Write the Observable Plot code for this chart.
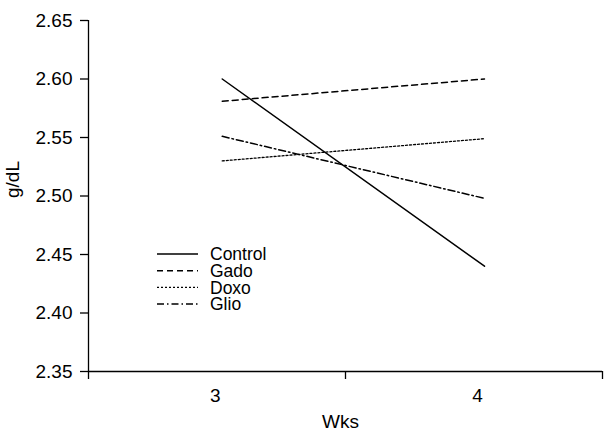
<!DOCTYPE html>
<html>
<head>
<meta charset="utf-8">
<script src="https://cdn.jsdelivr.net/npm/d3@7"></script>
<script src="https://cdn.jsdelivr.net/npm/@observablehq/plot@0.6"></script>
<style>
  html, body { margin: 0; padding: 0; background: #fff; }
  #wrap { position: relative; width: 614px; height: 439px; font-family: "Liberation Sans", Arial, sans-serif; }
  #legend { position: absolute; left: 150px; top: 242px; }
</style>
</head>
<body>
<div id="wrap"><div id="chart"></div><div id="legend"></div></div>
<script>
// Data
const weeks = [3, 4];
const series = ["Control", "Gado", "Doxo", "Glio"];
const control = [2.600, 2.440];
const gado = [2.581, 2.600];
const doxo = [2.530, 2.549];
const glio = [2.551, 2.498];
const yTicks = [2.35, 2.40, 2.45, 2.50, 2.55, 2.60, 2.65];
const xTickLabels = [3, 4];

const values = {Control: control, Gado: gado, Doxo: doxo, Glio: glio};
const dashes = {Control: null, Gado: "6,4", Doxo: "2,2", Glio: "7,3,1.5,3"};

const rows = [];
for (const s of series) weeks.forEach((w, i) => rows.push({series: s, wk: w, v: values[s][i]}));

const xDomain = [2.49, 4.45];
const xBounds = [xDomain[0], (xDomain[0] + xDomain[1]) / 2, xDomain[1]];
const yDomain = [2.35, 2.65];

const chart = Plot.plot({
  width: 614,
  height: 439,
  marginLeft: 88,
  marginRight: 12,
  marginTop: 20,
  marginBottom: 68,
  style: {fontFamily: "'Liberation Sans', Arial, sans-serif", fontSize: "19px", color: "#000", background: "#fff"},
  x: {domain: xDomain},
  y: {domain: yDomain},
  marks: [
    Plot.axisY({ticks: yTicks, tickFormat: d3.format(".2f"), tickSize: 8, tickPadding: 8, label: null, stroke: "#000", strokeWidth: 1.3}),
    Plot.axisX({ticks: xBounds, tickFormat: () => "", tickSize: 8, label: null, stroke: "#000", strokeWidth: 1.3}),
    Plot.axisX({ticks: xTickLabels, tickFormat: d => String(d), tickSize: 0, tickPadding: 17, dx: -7, label: null}),
    Plot.ruleX([xDomain[0]], {stroke: "#000", strokeWidth: 1.3}),
    Plot.ruleY([yDomain[0]], {stroke: "#000", strokeWidth: 1.3}),
    ...series.map(s => Plot.line(rows.filter(r => r.series === s), {
      x: "wk", y: "v", stroke: "#000", strokeWidth: s === "Doxo" ? 1.3 : 1.5, strokeDasharray: dashes[s]
    })),
    Plot.text(["Wks"], {frameAnchor: "bottom", dy: 56, dx: -5, fontSize: 19, fill: "#000"}),
    Plot.text(["g/dL"], {frameAnchor: "left", rotate: -90, dx: -76, dy: 2, fontSize: 19, fill: "#000"})
  ]
});
document.getElementById("chart").append(chart);

// Legend
const lg = d3.select("#legend").append("svg").attr("width", 140).attr("height", 80)
  .style("font-family", "'Liberation Sans', Arial, sans-serif").style("font-size", "17.5px");
series.forEach((s, i) => {
  const y = 12 + i * 16.7;
  lg.append("line").attr("x1", 7).attr("x2", 48).attr("y1", y).attr("y2", y)
    .attr("stroke", "#000").attr("stroke-width", s === "Doxo" ? 1.3 : 1.5)
    .attr("stroke-dasharray", dashes[s]);
  lg.append("text").attr("x", 60).attr("y", y).attr("dy", "0.35em").text(s);
});
</script>
</body>
</html>
